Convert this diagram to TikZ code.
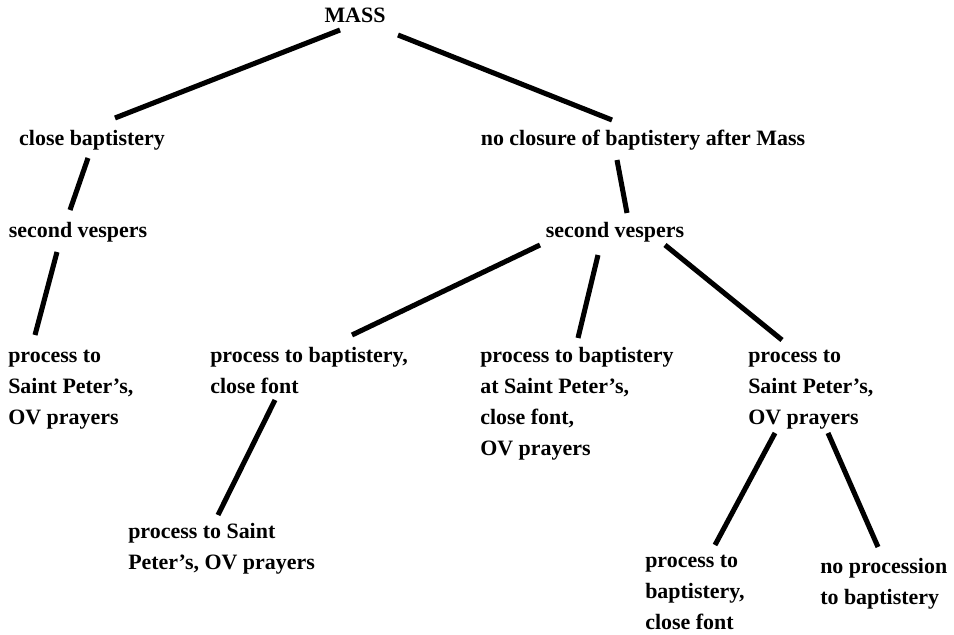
\documentclass[tikz,border=0pt]{standalone}
\usepackage{fontspec}
\setmainfont{Liberation Serif}
\usetikzlibrary{calc}

\tikzset{
	lbl/.style={font=\fontsize{15.6}{22}\selectfont\bfseries,inner sep=0},
	blk/.style={lbl,align=left,anchor=north west},
	edge/.style={line width=3.6pt}
}

\begin{document}
\begin{tikzpicture}[x=0.025cm,y=-0.025cm]
	\useasboundingbox (0,0) rectangle (954,635);
	\node[lbl] (mass) at (355,15) {MASS};
	\node[lbl] (close) at (92,140) {close baptistery};
	\node[lbl] (noclose) at (643,140) {no closure of baptistery after Mass};
	\node[lbl] (vesperL) at (78,232) {second vespers};
	\node[lbl] (vesperR) at (615,232) {second vespers};
	\node[blk] (procA) at (8,350) {process to\\Saint Peter’s,\\OV prayers};
	\node[blk] (procB) at (210,347) {process to baptistery,\\close font};
	\node[blk] (procC) at (480,347) {process to baptistery\\at Saint Peter’s,\\close font,\\OV prayers};
	\node[blk] (procD) at (748,350) {process to\\Saint Peter’s,\\OV prayers};
	\node[blk] (procE) at (128,523) {process to Saint\\Peter’s, OV prayers};
	\node[blk] (procF) at (645,555) {process to\\baptistery,\\close font};
	\node[blk] (procG) at (820,558) {no procession\\to baptistery};
	\draw[edge] ($(mass)+(-15,15)$) -- ($(close)+(23,-22)$);
	\draw[edge] ($(mass)+(43,20)$) -- ($(noclose)+(-31,-20)$);
	\draw[edge] ($(close)+(-4,18)$) -- ($(vesperL)+(-8,-22)$);
	\draw[edge] ($(vesperL)+(-21,20)$) -- ($(procA.north west)+(27,-15)$);
	\draw[edge] ($(noclose)+(-26,20)$) -- ($(vesperR)+(12,-19)$);
	\draw[edge] ($(vesperR)+(-75,13)$) -- ($(procB.north west)+(142,-12)$);
	\draw[edge] ($(vesperR)+(-17,23)$) -- ($(procC.north west)+(98,-9)$);
	\draw[edge] ($(vesperR)+(50,13)$) -- ($(procD.north west)+(34,-10)$);
	\draw[edge] ($(procB.north west)+(65,53)$) -- ($(procE.north west)+(90,-8)$);
	\draw[edge] ($(procD.north west)+(27,83)$) -- ($(procF.north west)+(70,-10)$);
	\draw[edge] ($(procD.north west)+(80,83)$) -- ($(procG.north west)+(58,-11)$);
\end{tikzpicture}
\end{document}
